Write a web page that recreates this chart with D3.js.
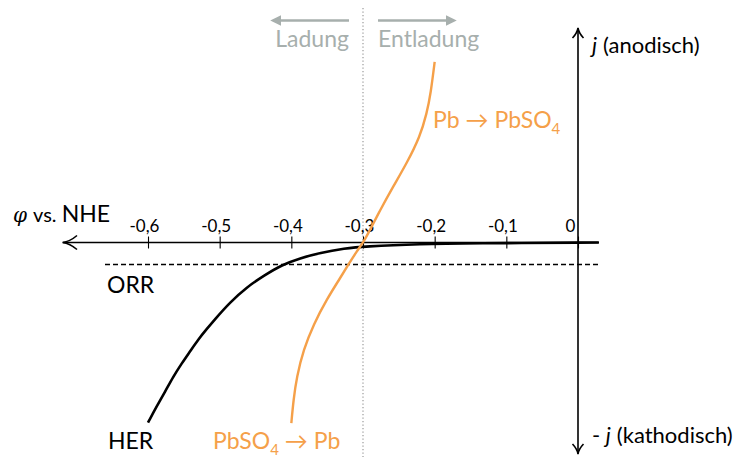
<!DOCTYPE html>
<html>
<head>
<meta charset="utf-8">
<script src="https://cdn.jsdelivr.net/npm/d3@7"></script>
<style>
  html, body { margin: 0; padding: 0; background: #fff; }
  svg { display: block; font-family: Lato, "Open Sans", sans-serif; }
</style>
</head>
<body>
<svg id="chart" width="735" height="457"></svg>
<script>
// Potential axis ticks (V vs. NHE) and their labels
const tickValues = [-0.6, -0.5, -0.4, -0.3, -0.2, -0.1, 0];
const tickLabels = ["-0,6", "-0,5", "-0,4", "-0,3", "-0,2", "-0,1", "0"];

// Hydrogen evolution (HER): potential and current density (arb. units)
const herPhi = [-0.600, -0.588, -0.576, -0.565, -0.553, -0.541, -0.530, -0.518, -0.507, -0.486, -0.462, -0.438, -0.413, -0.388, -0.360, -0.325, -0.300, -0.218, -0.152, 0.029];
const herJ   = [-0.858, -0.781, -0.710, -0.640, -0.576, -0.517, -0.462, -0.412, -0.367, -0.286, -0.212, -0.157, -0.106, -0.075, -0.049, -0.028, -0.019, -0.007, -0.004, 0];

// Lead electrode Pb <-> PbSO4: potential and current density (arb. units)
const pbPhi = [-0.40, -0.397, -0.3925, -0.383, -0.369, -0.3505, -0.332, -0.3195, -0.309, -0.30, -0.295, -0.276, -0.258, -0.239, -0.2205, -0.211, -0.2055, -0.20];
const pbJ   = [-0.86, -0.75, -0.64, -0.51, -0.39, -0.27, -0.17, -0.10, -0.044, 0, 0.028, 0.155, 0.266, 0.377, 0.504, 0.615, 0.71, 0.86];

// Oxygen reduction (ORR) current level and equilibrium potential of Pb/PbSO4
const orrJ = [-0.105];
const equilibriumPhi = [-0.3];

const orange = "#f5a049";
const grey = "#a7afad";

const svg = d3.select("#chart");

const x = d3.scaleLinear().domain([0, -0.6]).range([578, 148]);
const y = d3.scaleLinear().domain([-1, 1]).range([452.5, 32.5]);

// dotted equilibrium line
svg.append("line")
  .attr("x1", x(equilibriumPhi[0])).attr("x2", x(equilibriumPhi[0]))
  .attr("y1", 8).attr("y2", 457)
  .attr("stroke", "#9a9a9a").attr("stroke-width", 1.2)
  .attr("stroke-dasharray", "1.3,2.2");

// ORR dashed level
svg.append("line")
  .attr("x1", 105).attr("x2", 600)
  .attr("y1", y(orrJ[0])).attr("y2", y(orrJ[0]))
  .attr("stroke", "#000").attr("stroke-width", 1.5)
  .attr("stroke-dasharray", "5,3");

// horizontal potential axis
const axis = d3.axisTop(x)
  .tickValues(tickValues)
  .tickFormat((d, i) => tickLabels[i])
  .tickSizeOuter(0);

const gAxis = svg.append("g")
  .attr("transform", `translate(0,${y(0)})`)
  .call(axis);
gAxis.select(".domain").remove();
gAxis.selectAll(".tick line")
  .attr("y1", -6).attr("y2", 6)
  .attr("stroke", "#000").attr("stroke-width", 1.1);
gAxis.selectAll(".tick text")
  .attr("y", -11)
  .attr("dy", 0)
  .attr("dx", d => d === 0 ? -8 : -4)
  .attr("font-family", "Lato, sans-serif")
  .attr("font-size", 17)
  .attr("fill", "#000");

svg.append("line")
  .attr("x1", 63).attr("x2", 599)
  .attr("y1", y(0)).attr("y2", y(0))
  .attr("stroke", "#000").attr("stroke-width", 1.6);
svg.append("path")
  .attr("d", `M77,${y(0) - 7} Q70,${y(0) - 1} 62.5,${y(0)} Q70,${y(0) + 1} 77,${y(0) + 7}`)
  .attr("fill", "none").attr("stroke", "#000").attr("stroke-width", 1.6);

// vertical current axis
svg.append("line")
  .attr("x1", x(0)).attr("x2", x(0))
  .attr("y1", 28.5).attr("y2", 453.5)
  .attr("stroke", "#000").attr("stroke-width", 1.6);
svg.append("path")
  .attr("d", `M${x(0) - 5.5},38 Q${x(0) - 0.8},33 ${x(0)},28 Q${x(0) + 0.8},33 ${x(0) + 5.5},38`)
  .attr("fill", "none").attr("stroke", "#000").attr("stroke-width", 1.6);
svg.append("path")
  .attr("d", `M${x(0) - 5.5},444 Q${x(0) - 0.8},449 ${x(0)},454 Q${x(0) + 0.8},449 ${x(0) + 5.5},444`)
  .attr("fill", "none").attr("stroke", "#000").attr("stroke-width", 1.6);

// curves (B-spline through the read points keeps them smooth)
const line = d3.line().curve(d3.curveBasis);

svg.append("path")
  .attr("d", line(herPhi.map((p, i) => [x(p), y(herJ[i])])))
  .attr("fill", "none").attr("stroke", "#000").attr("stroke-width", 2.6);

svg.append("path")
  .attr("d", line(pbPhi.map((p, i) => [x(p), y(pbJ[i])])))
  .attr("fill", "none").attr("stroke", orange).attr("stroke-width", 2.4);

// charge / discharge direction arrows
svg.append("defs").append("marker")
  .attr("id", "head")
  .attr("viewBox", "0 0 10 10")
  .attr("refX", 2).attr("refY", 5)
  .attr("markerWidth", 4.2).attr("markerHeight", 4.2)
  .attr("orient", "auto")
  .append("path").attr("d", "M0,0 L10,5 L0,10 Z").attr("fill", grey);

svg.append("line")
  .attr("x1", 349).attr("x2", 279).attr("y1", 20.5).attr("y2", 20.5)
  .attr("stroke", grey).attr("stroke-width", 2.6).attr("marker-end", "url(#head)");
svg.append("line")
  .attr("x1", 378).attr("x2", 448).attr("y1", 20.5).attr("y2", 20.5)
  .attr("stroke", grey).attr("stroke-width", 2.6).attr("marker-end", "url(#head)");

const label = (tx, ty, color, anchor, size) => svg.append("text")
  .attr("x", tx).attr("y", ty)
  .attr("fill", color)
  .attr("font-size", size || 23)
  .attr("text-anchor", anchor || "start");

label(349, 47, grey, "end").text("Ladung");
label(378, 47, grey).text("Entladung");

// axis titles
const phiTitle = label(13, 222, "#000");
phiTitle.append("tspan").attr("font-style", "italic").attr("font-family", "'DejaVu Serif', serif").attr("font-size", 20).text("φ");
phiTitle.append("tspan").attr("dx", 6).attr("font-size", 20).text("vs. ");
phiTitle.append("tspan").text("NHE");

const jUp = label(592, 53, "#000", "start", 22);
jUp.append("tspan").attr("font-style", "italic").text("j");
jUp.append("tspan").attr("dx", 6).text("(anodisch)");

const jDown = label(592, 443, "#000", "start", 22);
jDown.append("tspan").text("- ");
jDown.append("tspan").attr("font-style", "italic").text("j");
jDown.append("tspan").attr("dx", 6).text("(kathodisch)");

// reaction labels
label(107, 293, "#000").text("ORR");
label(108, 449, "#000").text("HER");

const pbTop = label(433, 128, orange);
pbTop.append("tspan").text("Pb → PbSO");
pbTop.append("tspan").attr("font-size", 15).attr("dy", 6).text("4");

const pbBottom = label(213, 449, orange);
pbBottom.append("tspan").text("PbSO");
pbBottom.append("tspan").attr("font-size", 15).attr("dy", 6).text("4");
pbBottom.append("tspan").attr("dy", -6).text(" → Pb");
</script>
</body>
</html>
